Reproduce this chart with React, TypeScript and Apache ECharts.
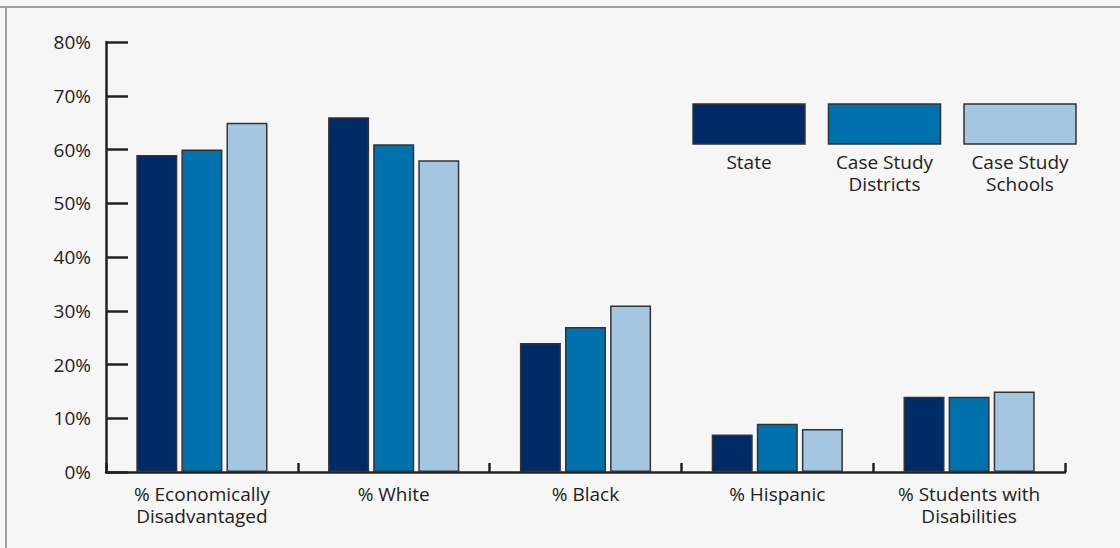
import React, { useEffect, useRef } from "react";
import * as echarts from "echarts";

// Demographic comparison: state vs. case study districts vs. case study schools
const categories = [
  "% Economically\nDisadvantaged",
  "% White",
  "% Black",
  "% Hispanic",
  "% Students with\nDisabilities",
];
const seriesNames = ["State", "Case Study\nDistricts", "Case Study\nSchools"];
const stateValues = [59, 66, 24, 7, 14];
const districtValues = [60, 61, 27, 9, 14];
const schoolValues = [65, 58, 31, 8, 15];
const yMin = 0;
const yMax = 80;
const yStep = 10;

const colors = ["#002b66", "#0071ad", "#a5c6e1"];
const FONT = '"Open Sans", "Noto Sans", sans-serif';
const FONT_SIZE = 19;
const TEXT = "#222222";
const AXIS = "#222222";

export default function App() {
  const ref = useRef<HTMLDivElement>(null);

  useEffect(() => {
    if (!ref.current) return;
    const chart = echarts.init(ref.current, null, { renderer: "svg" });
    const values = [stateValues, districtValues, schoolValues];

    // Legend swatches with captions below them
    const legendX = [693, 828.5, 964];
    const legendItems: any[] = [];
    seriesNames.forEach((name, i) => {
      legendItems.push({
        type: "rect",
        shape: { x: legendX[i], y: 104, width: 112, height: 40 },
        style: { fill: colors[i], stroke: "#333", lineWidth: 1.5 },
      });
      legendItems.push({
        type: "text",
        style: {
          text: name,
          x: legendX[i] + 56,
          y: 151,
          textAlign: "center",
          textVerticalAlign: "top",
          font: `${FONT_SIZE}px ${FONT}`,
          lineHeight: 22,
          fill: TEXT,
        },
      });
    });

    chart.setOption({
      animation: false,
      backgroundColor: "#f6f6f6",
      textStyle: { fontFamily: FONT },
      grid: { left: 106, right: 55, top: 42, bottom: 76 },
      xAxis: {
        type: "category",
        data: categories,
        boundaryGap: true,
        axisLine: { show: true, lineStyle: { color: AXIS, width: 2.5 } },
        axisTick: {
          show: true,
          inside: true,
          length: 9,
          alignWithLabel: false,
          interval: 0,
          lineStyle: { color: AXIS, width: 2.5 },
        },
        axisLabel: {
          interval: 0,
          margin: 11,
          color: TEXT,
          fontSize: FONT_SIZE,
          lineHeight: 22,
          fontFamily: FONT,
        },
        splitLine: { show: false },
      },
      yAxis: {
        type: "value",
        min: yMin,
        max: yMax,
        interval: yStep,
        axisLine: { show: true, lineStyle: { color: AXIS, width: 2.5 } },
        axisTick: {
          show: true,
          inside: true,
          length: 22,
          lineStyle: { color: AXIS, width: 2.5 },
        },
        axisLabel: {
          formatter: "{value}%",
          margin: 15,
          color: TEXT,
          fontSize: FONT_SIZE,
          fontFamily: FONT,
        },
        splitLine: { show: false },
      },
      series: values.map((vals, i) => ({
        type: "bar",
        name: seriesNames[i],
        data: vals,
        barWidth: 41,
        barGap: "10%",
        itemStyle: { color: colors[i], borderColor: "#333", borderWidth: 1.5 },
      })),
      graphic: [
        {
          type: "line",
          shape: { x1: 0, y1: 7, x2: 1120, y2: 7 },
          style: { stroke: "#a0a0a0", lineWidth: 2 },
        },
        {
          type: "line",
          shape: { x1: 6, y1: 6, x2: 6, y2: 548 },
          style: { stroke: "#a0a0a0", lineWidth: 2 },
        },
        ...legendItems,
      ],
    });

    return () => chart.dispose();
  }, []);

  return (
    <div
      ref={ref}
      style={{ position: "fixed", left: 0, top: 0, width: 1120, height: 548 }}
    />
  );
}
